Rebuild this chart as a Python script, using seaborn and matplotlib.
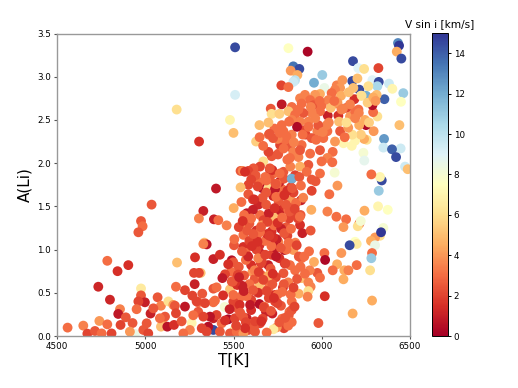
import numpy as np
import pandas as pd
import matplotlib
matplotlib.use('Agg')
import matplotlib.pyplot as plt
import seaborn as sns

# values, grouped by where they sit in the cloud
# faint / blue stars at the hot end, mostly drawn underneath
t_outer = [5509, 5509, 5178, 5480, 5500, 5305, 5540, 5811, 5920, 5839,
           5873, 5824, 5862, 5849, 5839, 5771, 5811, 5956, 6003, 6015,
           6177, 6207, 6240, 6321, 6432, 6438, 6425, 6451, 6173, 6287,
           6323, 6381, 6400, 6315, 6462, 6355, 6449, 6213, 6251, 6221,
           6440, 6353, 6349, 6447, 6398, 6421, 6472, 6487, 6340, 6330,
           6281, 6236, 6241, 6073, 6294, 6251, 6315, 6291, 6287, 6255,
           6240, 6189, 6170, 6123, 6222, 6173]
a_outer = [3.34, 2.79, 2.62, 2.50, 2.35, 2.25, 1.91, 3.33, 3.29, 3.12,
           3.09, 3.07, 3.02, 2.96, 2.94, 2.90, 2.88, 2.93, 3.02, 2.87,
           3.18, 3.10, 3.09, 3.10, 3.39, 3.36, 3.29, 3.21, 2.95, 2.96,
           2.94, 2.92, 2.86, 2.89, 2.81, 2.74, 2.71, 2.85, 2.78, 2.78,
           2.44, 2.28, 2.18, 2.17, 2.16, 2.07, 1.96, 1.93, 1.80, 1.84,
           1.87, 2.12, 2.03, 1.89, 2.37, 2.44, 2.54, 2.59, 2.67, 2.27,
           2.28, 2.26, 2.20, 2.23, 2.33, 2.33]
v_outer = [14.5, 9.3, 6.0, 7.0, 5.0, 1.5, 2.5, 7.5, 0.2, 13.5,
           14.5, 4.0, 4.5, 10.0, 9.5, 2.0, 3.0, 12.0, 11.0, 8.5,
           14.5, 9.0, 6.0, 2.0, 13.0, 15.0, 4.5, 14.5, 14.5, 9.0,
           14.5, 9.5, 7.0, 10.5, 11.0, 14.0, 7.5, 14.5, 12.0, 6.5,
           5.0, 12.5, 9.5, 9.5, 14.0, 14.5, 9.5, 5.0, 14.5, 7.0,
           3.0, 8.0, 8.7, 8.0, 4.0, 0.3, 6.0, 3.0, 0.5, 6.0,
           4.5, 7.0, 7.0, 7.0, 5.5, 6.0]

# upper part of the cloud, A(Li) above about 1.8
t_upper = [6085, 6104, 6075, 6056, 5990, 5962, 5905, 5877, 5886, 5934,
           5953, 6000, 6038, 6109, 6085, 6141, 6185, 6208, 6160, 6189,
           6264, 6202, 6226, 6179, 6311, 6117, 6034, 6094, 6098, 6051,
           5990, 5943, 5896, 5868, 5830, 5773, 5711, 5716, 5760, 5811,
           5849, 5924, 5877, 5830, 5773, 5732, 5647, 5698, 5628, 5783,
           5830, 5909, 5975, 6032, 6104, 6028, 6075, 6009, 5943, 5886,
           5820, 5764, 5792, 5754, 5839, 5868, 5934, 5990, 6062, 6032,
           6060, 5999, 5924, 5877, 5820, 5716, 5669, 5707, 5650, 5613,
           5584, 5552, 5726, 5783, 5830, 5849, 5915, 5943, 5990, 5965,
           6089, 6153, 6210, 6245, 6268, 6150, 6130, 6212, 6189, 6260,
           6292, 6305, 6120, 6140, 5980, 5900, 5860, 5800, 5750, 5700]
a_upper = [2.90, 2.87, 2.85, 2.81, 2.80, 2.79, 2.79, 2.75, 2.69, 2.73,
           2.67, 2.67, 2.73, 2.78, 2.69, 2.64, 2.74, 2.62, 2.54, 2.60,
           2.89, 2.98, 2.78, 2.87, 2.79, 2.96, 2.55, 2.55, 2.48, 2.64,
           2.60, 2.58, 2.58, 2.62, 2.65, 2.68, 2.63, 2.57, 2.57, 2.60,
           2.56, 2.48, 2.48, 2.50, 2.44, 2.40, 2.44, 2.47, 2.25, 2.37,
           2.33, 2.33, 2.37, 2.37, 2.37, 2.44, 2.25, 2.29, 2.29, 2.21,
           2.19, 2.21, 2.27, 2.11, 2.13, 2.07, 2.11, 2.15, 2.13, 2.06,
           2.01, 2.02, 1.98, 1.96, 2.06, 2.08, 2.02, 1.92, 1.96, 1.94,
           1.91, 1.91, 1.88, 1.90, 1.82, 1.86, 1.90, 1.81, 1.88, 1.79,
           2.70, 2.82, 2.58, 2.50, 2.47, 2.41, 2.30, 2.44, 2.52, 2.70,
           2.76, 2.72, 2.63, 2.47, 2.44, 2.38, 2.42, 2.31, 2.28, 2.33]
v_upper = [3.5, 4.0, 3.5, 3.0, 4.5, 4.0, 3.5, 3.5, 3.0, 3.0,
           2.5, 3.0, 3.5, 4.5, 3.5, 2.0, 1.5, 3.0, 4.0, 3.0,
           6.0, 5.0, 6.0, 5.0, 5.0, 4.0, 1.0, 1.5, 5.0, 5.0,
           3.0, 3.5, 2.5, 3.0, 3.0, 0.8, 2.5, 6.0, 5.5, 5.0,
           3.0, 3.5, 3.5, 3.5, 3.0, 3.0, 5.0, 5.0, 5.5, 3.0,
           3.5, 2.0, 3.5, 3.0, 2.5, 3.5, 4.0, 3.0, 2.5, 3.0,
           2.5, 2.0, 3.0, 3.0, 3.5, 3.5, 3.0, 2.5, 3.0, 3.5,
           3.0, 3.0, 2.5, 4.5, 3.0, 2.5, 6.0, 1.5, 2.0, 2.5,
           2.0, 3.5, 3.0, 2.5, 3.0, 2.0, 3.0, 2.5, 3.0, 2.5,
           4.0, 5.0, 3.5, 4.5, 5.5, 4.0, 3.0, 4.5, 3.5, 5.5,
           4.5, 4.0, 3.5, 6.0, 2.5, 2.0, 0.3, 3.0, 3.5, 3.0]

# left tail and lower edge, read from the low temperature side
t_lower = [5036, 4976, 4985, 4961, 4785, 4904, 4843, 4734, 4976, 4800,
           4976, 4998, 4961, 4951, 4857, 4847, 4890, 5030, 5070, 5089,
           5131, 5159, 5168, 5225, 5174, 5180, 5276, 5314, 5304, 5280,
           5282, 5386, 5423, 5335, 5348, 5329, 5329, 5304, 5389, 5414,
           5461, 5501, 5401, 5503, 5490, 5499, 5486, 5452, 5437, 5323,
           5267, 5386, 5404, 5480, 5395, 5386, 5450, 5225, 5300, 5291,
           5338, 5470, 5263, 5386, 5357, 5508, 4942, 4560, 4649, 4740,
           4785, 4672, 4715, 4753, 4809, 4860, 4928, 5008, 4913, 4989,
           5017, 5102, 5089, 5125, 5163, 5112, 5083, 5046, 5206, 5174,
           5253, 5216, 5320, 5300, 5272, 5386, 5404, 5433, 5423, 5480,
           5518, 5508, 5523, 5499, 5527, 5499, 5521, 5490, 5348, 5367,
           5329]
a_lower = [1.52, 1.33, 1.27, 1.20, 0.87, 0.82, 0.75, 0.57, 0.55, 0.42,
           0.47, 0.39, 0.40, 0.31, 0.31, 0.255, 0.216, 0.26, 0.448, 0.35,
           0.40, 0.36, 0.35, 0.53, 0.57, 0.85, 0.73, 0.73, 0.73, 0.60,
           0.91, 0.89, 0.94, 1.08, 1.06, 1.065, 1.447, 1.36, 1.35, 1.34,
           1.28, 1.48, 1.706, 1.05, 0.876, 0.853, 0.745, 0.714, 0.67, 0.49,
           0.467, 0.548, 0.563, 0.54, 0.41, 0.39, 0.336, 0.34, 0.39, 0.40,
           0.38, 0.193, 0.15, 0.07, 0.108, 0.08, 0.023, 0.097, 0.12, 0.174,
           0.135, 0.027, 0.058, 0.03, 0.03, 0.128, 0.15, 0.147, 0.05, 0.07,
           0.03, 0.13, 0.108, 0.108, 0.128, 0.224, 0.205, 0.32, 0.17, 0.263,
           0.07, 0.03, 0.09, 0.28, 0.24, 0.205, 0.243, 0.147, 0.05, 0.03,
           0.05, 0.205, 0.32, 0.398, 0.417, 0.475, 0.59, 0.63, 0.05, 0.224,
           0.224]
v_lower = [2.5, 2.5, 3.0, 2.5, 3.0, 1.5, 1.5, 1.2, 6.5, 1.2,
           2.5, 1.0, 2.0, 3.0, 3.5, 0.8, 2.5, 1.0, 2.5, 3.5,
           6.0, 4.0, 2.5, 2.0, 3.0, 5.0, 2.0, 5.0, 2.0, 1.0,
           1.5, 1.0, 1.5, 5.0, 0.7, 3.5, 1.0, 3.5, 1.0, 3.0,
           3.5, 4.5, 0.8, 2.5, 0.5, 2.5, 3.0, 2.0, 0.8, 2.5,
           2.0, 2.5, 3.0, 5.0, 3.0, 3.0, 8.0, 0.8, 3.0, 2.0,
           2.0, 0.3, 7.0, 14.5, 0.5, 6.5, 8.5, 3.0, 3.5, 4.0,
           3.0, 2.0, 2.5, 3.0, 2.0, 2.0, 2.5, 2.5, 4.0, 2.5,
           2.0, 4.5, 5.0, 0.6, 1.5, 2.5, 3.0, 2.5, 2.5, 2.0,
           3.5, 3.0, 2.0, 2.5, 3.0, 1.0, 2.0, 3.0, 2.5, 2.5,
           3.0, 2.0, 2.5, 2.0, 2.0, 3.0, 1.5, 2.5, 2.0, 0.6,
           2.0]

# right side of the lower cloud
t_right = [6323, 6319, 6374, 6242, 6083, 6138, 6032, 5941, 6043, 6089,
           6213, 6204, 6221, 6123, 6349, 6330, 6302, 6279, 6302, 6189,
           6198, 6111, 6285, 6281, 6015, 5956, 6087, 6198, 6062, 6128,
           6151, 6274, 5975, 5990, 5932, 5886, 6123, 5924, 5937, 5924,
           5920, 5869, 5824, 5830, 6285, 6175, 5981, 5817, 5813, 5830,
           5786, 5745, 5726, 5688, 5647, 5645, 5698, 5735, 5769, 5684,
           5575, 5650, 5584, 5556, 5622, 6019, 6017, 6336, 6158]
a_right = [1.68, 1.50, 1.46, 1.45, 1.38, 1.35, 1.44, 1.46, 1.64, 1.74,
           1.30, 1.27, 1.33, 1.26, 1.25, 1.16, 1.14, 1.10, 1.05, 1.09,
           1.065, 0.96, 0.96, 0.90, 0.96, 0.857, 0.83, 0.82, 0.76, 0.76,
           0.76, 0.76, 0.73, 0.675, 0.76, 0.67, 0.656, 0.62, 0.57, 0.52,
           0.455, 0.49, 0.48, 0.40, 0.41, 0.26, 0.15, 0.28, 0.24, 0.16,
           0.09, 0.10, 0.078, 0.04, 0.37, 0.58, 0.55, 0.475, 0.35, 0.28,
           0.205, 0.147, 0.07, 0.03, 0.05, 0.88, 0.46, 1.20, 1.05]
v_right = [11.0, 7.0, 7.5, 4.5, 3.0, 3.0, 3.5, 4.5, 3.0, 4.0,
           3.0, 6.0, 8.0, 4.0, 8.0, 6.0, 4.0, 4.5, 8.5, 7.5,
           6.5, 4.0, 3.0, 11.0, 3.0, 4.5, 4.5, 3.0, 3.0, 4.5,
           3.5, 6.0, 2.5, 3.0, 3.5, 5.0, 4.5, 3.5, 3.5, 6.0,
           3.5, 4.5, 3.0, 3.0, 4.5, 4.5, 2.5, 3.0, 2.5, 3.0,
           2.0, 4.0, 6.5, 3.0, 0.5, 5.0, 3.0, 1.5, 2.5, 1.0,
           1.0, 2.0, 2.0, 4.0, 2.5, 0.3, 1.5, 15.0, 14.5]

# the dense column in the middle
t_core = [5664, 5697, 5943, 5883, 5824, 5783, 5732, 5767, 5834, 5877,
          5890, 5788, 5839, 5886, 5928, 5716, 5697, 5607, 5650, 5647,
          5575, 5631, 5556, 5584, 5641, 5650, 5578, 5556, 5754, 5716,
          5820, 5849, 5783, 5740, 5690, 5620, 5600, 5570, 5660, 5710,
          5760, 5800, 5850, 5870, 5805, 5745, 5680, 5630, 5590, 5560,
          5530, 5545, 5610, 5665, 5725, 5775, 5825, 5880, 5790, 5730,
          5670, 5610, 5560, 5590, 5640, 5700, 5750, 5810, 5860, 5905,
          5840, 5780, 5720, 5660, 5600, 5550, 5520, 5570, 5630, 5690,
          5740, 5800, 5855, 5815, 5760, 5705, 5645, 5585, 5540, 5565,
          5625, 5680, 5735, 5785, 5840, 5895, 5820, 5770, 5715, 5655,
          5600, 5555, 5605, 5665, 5720, 5775, 5830, 5880, 5790, 5735,
          5675, 5615, 5570, 5545, 5510, 5530, 5590, 5650, 5700, 5755,
          5810, 5865, 5805, 5745, 5685, 5625, 5575, 5535, 5640, 5700,
          5760, 5810, 5680, 5620, 5725, 5785, 5660, 5600, 5720, 5830]
a_core = [1.71, 1.71, 1.68, 1.57, 1.57, 1.63, 1.38, 1.45, 1.42, 1.285,
          1.19, 0.995, 0.995, 0.90, 0.98, 0.94, 0.82, 0.74, 0.96, 1.05,
          1.42, 1.15, 1.03, 1.64, 1.52, 1.40, 1.285, 1.17, 1.09, 1.21,
          0.82, 0.76, 0.726, 0.68, 0.64, 0.66, 0.82, 0.88, 0.86, 0.78,
          0.90, 1.00, 1.08, 0.92, 1.16, 1.12, 1.10, 1.22, 1.30, 1.40,
          1.26, 1.55, 1.58, 1.60, 1.62, 1.70, 1.72, 1.40, 1.50, 1.28,
          1.34, 1.46, 0.70, 0.60, 0.50, 0.44, 0.48, 0.62, 0.66, 0.72,
          0.56, 0.56, 0.60, 0.70, 0.42, 0.58, 0.68, 0.96, 1.00, 1.18,
          1.02, 1.26, 1.54, 1.36, 1.78, 1.82, 1.78, 1.75, 1.72, 1.90,
          1.86, 1.84, 1.70, 1.82, 1.66, 1.60, 1.48, 1.24, 1.04, 0.84,
          0.30, 0.22, 0.14, 0.20, 0.26, 0.20, 0.30, 0.80, 0.84, 0.40,
          0.34, 0.10, 0.16, 0.46, 0.62, 0.80, 1.10, 1.20, 1.42, 1.56,
          1.46, 1.36, 1.68, 1.76, 1.52, 1.08, 0.46, 0.36, 0.90, 0.70,
          0.16, 0.12, 0.94, 0.76, 1.14, 0.60, 1.28, 1.36, 1.92, 1.82]
v_core = [0.3, 6.0, 2.0, 1.0, 4.0, 3.0, 5.0, 1.0, 2.0, 1.5,
          1.0, 0.6, 4.0, 3.0, 3.0, 2.0, 1.0, 4.0, 1.0, 1.5,
          0.8, 2.5, 1.5, 2.5, 1.2, 3.0, 4.0, 3.0, 3.5, 1.5,
          3.0, 3.0, 2.5, 2.0, 3.0, 2.5, 1.5, 3.0, 2.0, 2.5,
          1.5, 3.0, 3.5, 2.5, 2.0, 1.0, 3.0, 1.5, 2.5, 3.0,
          2.0, 3.0, 2.0, 2.5, 1.2, 3.0, 2.0, 2.5, 1.5, 3.0,
          2.0, 1.0, 2.5, 3.0, 1.5, 2.0, 3.0, 3.5, 2.5, 3.0,
          2.0, 1.5, 2.5, 3.0, 2.0, 1.0, 2.5, 3.0, 2.0, 1.5,
          0.8, 2.5, 3.0, 2.0, 1.0, 2.5, 3.0, 2.0, 5.0, 1.5,
          2.5, 3.0, 0.8, 2.5, 2.0, 3.5, 2.5, 1.0, 3.0, 2.0,
          1.5, 2.5, 3.0, 2.0, 1.0, 3.0, 2.5, 3.0, 1.5, 2.0,
          3.0, 2.5, 2.0, 3.0, 1.5, 2.5, 2.0, 3.0, 1.0, 2.5,
          3.0, 2.0, 1.5, 3.0, 2.5, 2.0, 3.0, 1.5, 3.5, 4.5,
          2.5, 3.0, 2.0, 3.5, 1.5, 2.5, 4.0, 3.0, 1.5, 12.0]

# redder stars sitting on top of the column, gaps seen in earlier runs
t_top = [5452, 5478, 5515, 5538, 5566, 5594, 5622, 5558, 5496, 5441,
         5470, 5525, 5583, 5611, 5643, 5672, 5604, 5548, 5505, 5532,
         5578, 5636, 5688, 5712, 5658, 5749, 5776, 5722, 5794, 5768,
         5703, 5741, 5812, 5787, 5751, 5826, 5858, 5818, 5776, 5733,
         5692, 5655, 5617, 5685, 5742, 5797, 5847, 5876, 5832, 5788,
         5738, 5686, 5637, 5706, 5762, 5822, 5873, 5805, 5752, 5698,
         5668, 5724, 5784, 5842, 5762, 5704, 5648, 5600, 5552, 5612,
         5669, 5729, 5792, 5846, 5901, 5937, 5882, 5968, 6006, 5925,
         5877, 5963, 5892, 5815, 6040, 6112, 6071, 6160, 5988, 5938]
a_top = [0.18, 0.31, 0.12, 0.27, 0.09, 0.36, 0.17, 0.52, 0.63, 0.47,
         0.83, 0.71, 0.92, 0.53, 0.74, 0.33, 1.04, 0.98, 1.12, 0.68,
         1.22, 1.09, 0.52, 0.29, 0.17, 0.38, 0.51, 0.72, 0.84, 1.02,
         1.16, 0.92, 1.08, 1.19, 1.31, 1.24, 1.05, 1.44, 1.37, 1.48,
         1.32, 1.26, 1.58, 1.66, 1.61, 1.52, 1.47, 1.38, 1.71, 1.63,
         1.76, 1.80, 1.73, 1.94, 1.88, 1.96, 1.84, 2.04, 2.10, 2.13,
         2.20, 2.29, 2.17, 2.24, 2.35, 2.34, 2.30, 1.81, 1.33, 1.18,
         0.65, 0.44, 0.21, 0.34, 0.92, 1.22, 1.74, 2.27, 2.36, 2.42,
         2.15, 2.52, 2.33, 2.48, 2.47, 2.62, 2.72, 2.68, 2.72, 2.65]
v_top = [1.5, 1.0, 2.0, 2.5, 1.5, 0.8, 2.0, 1.0, 2.5, 1.5,
         1.5, 2.0, 1.2, 2.5, 1.8, 2.0, 1.5, 2.5, 3.0, 1.0,
         2.5, 1.5, 2.0, 2.5, 1.5, 2.0, 3.0, 1.5, 2.0, 2.5,
         1.8, 0.8, 3.0, 2.5, 1.5, 3.0, 2.0, 2.5, 3.0, 1.5,
         2.0, 2.5, 1.5, 2.5, 3.0, 2.5, 2.0, 3.0, 2.5, 1.5,
         2.5, 3.0, 2.0, 2.5, 3.0, 3.5, 2.5, 3.0, 2.5, 2.0,
         3.0, 2.5, 3.0, 3.5, 3.0, 2.5, 3.0, 2.0, 1.5, 2.5,
         2.0, 1.5, 2.5, 2.0, 3.0, 2.5, 3.0, 3.0, 3.5, 3.0,
         2.5, 3.5, 3.0, 3.0, 3.5, 3.5, 3.0, 3.5, 3.0, 3.5]

t_all = np.concatenate([t_outer, t_lower, t_upper, t_right, t_core, t_top])
a_all = np.concatenate([a_outer, a_lower, a_upper, a_right, a_core, a_top])
v_all = np.concatenate([v_outer, v_lower, v_upper, v_right, v_core, v_top])
df = pd.DataFrame({'teff': t_all, 'ali': a_all, 'vsini': v_all})

fig = plt.figure(figsize=(5.18, 3.88), dpi=100)
ax = fig.add_axes([57/518, 1 - 336/388, 353/518, 302.5/388])

sns.scatterplot(data=df, x='teff', y='ali', hue='vsini', palette='RdYlBu',
                hue_norm=(0, 15), s=50, linewidth=0, edgecolor='none', legend=False, ax=ax)

ax.set_xlim(4500, 6500)
ax.set_ylim(0, 3.5)
ax.set_xticks([4500, 5000, 5500, 6000, 6500])
ax.set_yticks([0, 0.5, 1, 1.5, 2, 2.5, 3, 3.5])
ax.set_yticklabels(['0.0', '0.5', '1.0', '1.5', '2.0', '2.5', '3.0', '3.5'])
ax.tick_params(labelsize=6.3, length=2.5, width=0.8, color='#555555', pad=2)
ax.set_xlabel('T[K]', fontsize=11, labelpad=1)
ax.set_ylabel('A(Li)', fontsize=11, labelpad=3)
for s in ax.spines.values():
    s.set_color('#999999')
    s.set_linewidth(1.0)

# colourbar on its own axes
cax = fig.add_axes([432/518, 1 - 336/388, 15.5/518, 303/388])
sm = plt.cm.ScalarMappable(norm=plt.Normalize(0, 15), cmap='RdYlBu')
cb = fig.colorbar(sm, cax=cax, ticks=[0, 2, 4, 6, 8, 10, 12, 14])
cb.ax.tick_params(labelsize=6.3, length=2.5, width=0.7, pad=2)
cb.outline.set_linewidth(0.7)
cax.set_title('V sin i [km/s]', fontsize=7.6, pad=4)

fig.savefig('out.png', dpi=100)
